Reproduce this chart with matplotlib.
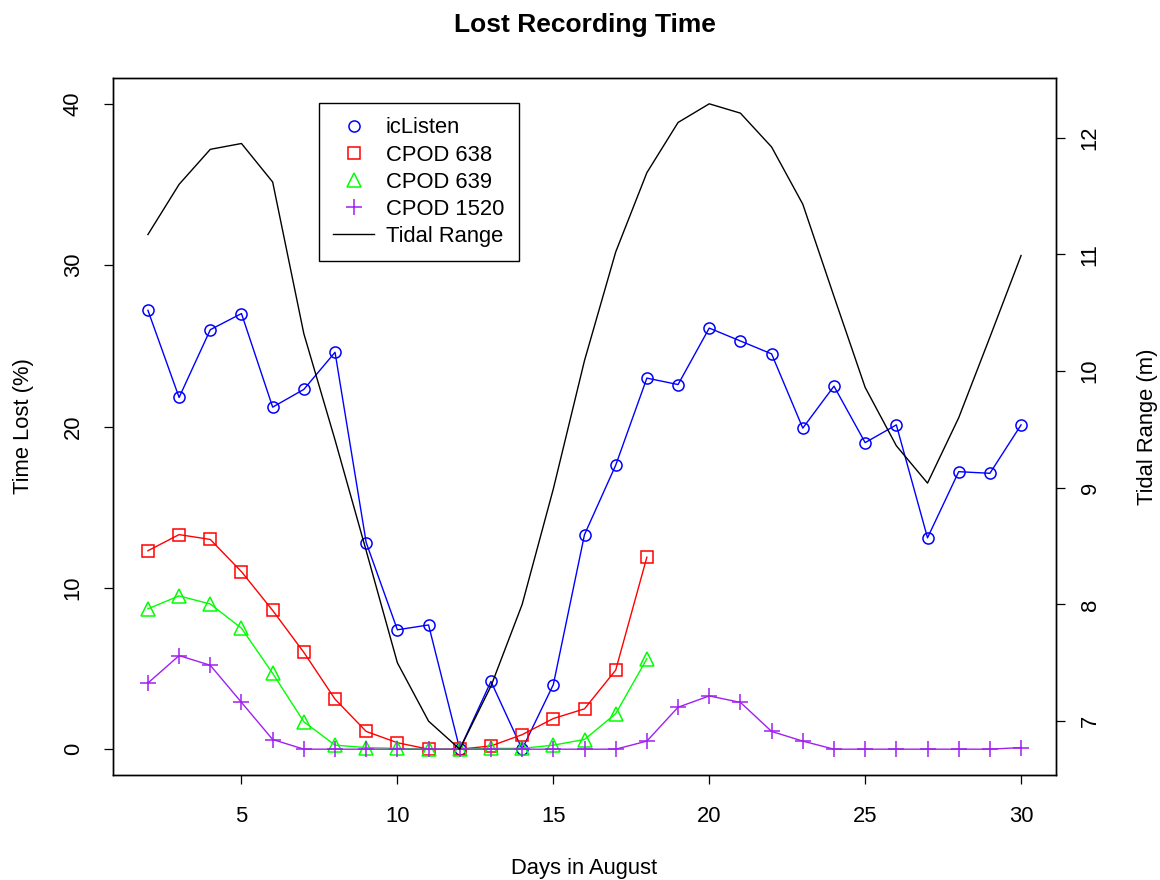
import numpy as np
import matplotlib.pyplot as plt
from matplotlib.lines import Line2D

plt.rcParams['font.family'] = ['Liberation Sans', 'DejaVu Sans']

days = np.arange(2, 31)
days_cpod = np.arange(2, 19)

iclisten = [27.2, 21.8, 26.0, 27.0, 21.2, 22.3, 24.6, 12.8, 7.4, 7.7, 0.0, 4.2, 0.0, 4.0,
            13.3, 17.6, 23.0, 22.6, 26.1, 25.3, 24.5, 19.9, 22.5, 19.0, 20.1, 13.1, 17.2, 17.1, 20.1]
cpod638 = [12.3, 13.3, 13.0, 11.0, 8.6, 6.0, 3.1, 1.1, 0.4, 0.0, 0.0, 0.2, 0.9, 1.9, 2.5, 4.9, 11.9]
cpod639 = [8.7, 9.5, 9.0, 7.5, 4.7, 1.7, 0.25, 0.1, 0.05, 0.0, 0.0, 0.05, 0.05, 0.25, 0.6, 2.2, 5.6]
cpod1520 = [4.1, 5.8, 5.2, 2.9, 0.6, 0.0, 0.0, 0.0, 0.0, 0.0, 0.0, 0.0, 0.0, 0.0, 0.0, 0.0, 0.5,
            2.6, 3.3, 2.9, 1.1, 0.5, 0.0, 0.0, 0.0, 0.0, 0.0, 0.0, 0.1]
tidal = [11.17, 11.60, 11.90, 11.95, 11.62, 10.32, 9.41, 8.46, 7.50, 7.00, 6.76, 7.30, 8.00, 8.99,
         10.09, 11.02, 11.70, 12.13, 12.29, 12.21, 11.92, 11.43, 10.64, 9.86, 9.36, 9.04, 9.60, 10.29, 10.99]

purple = '#A020F0'
fs = 15.8

fig, ax = plt.subplots(figsize=(11.6, 8.8), dpi=100)
fig.subplots_adjust(left=113/1160, right=1056/1160, top=1-78/880, bottom=1-775/880)

lw = 1.0
ax.plot(days, iclisten, color='blue', lw=lw, marker='o', ms=8, mfc='none', mew=1.1)
ax.plot(days_cpod, cpod638, color='red', lw=lw, marker='s', ms=8, mfc='none', mew=1.1)
ax.plot(days_cpod, cpod639, color='#00FF00', lw=lw, marker='^', ms=9.5, mfc='none', mew=1.1)
ax.plot(days, cpod1520, color=purple, lw=lw, marker='+', ms=11, mew=1.1)

ax.set_xlim(0.88, 31.12)
ax.set_ylim(-1.6, 41.6)
ax.set_xticks([5, 10, 15, 20, 25, 30])
ax.set_yticks([0, 10, 20, 30, 40])
ax.tick_params(axis='x', direction='out', length=6.5, width=0.9, labelsize=fs, pad=15.5)
ax.tick_params(axis='y', direction='out', length=6.5, width=0.9, labelsize=fs, pad=14.5)
for lab in ax.get_yticklabels():
    lab.set_rotation(90)
    lab.set_va('center')

ax2 = ax.twinx()
ax2.plot(days, tidal, color='black', lw=lw)
rng = max(tidal) - min(tidal)
ax2.set_ylim(min(tidal) - 0.04 * rng, max(tidal) + 0.04 * rng)
ax2.set_yticks([7, 8, 9, 10, 11, 12])
ax2.tick_params(axis='y', direction='out', length=6.5, width=0.9, labelsize=fs, pad=10.5)
for lab in ax2.get_yticklabels():
    lab.set_rotation(90)
    lab.set_va('center')

for a in (ax, ax2):
    for s in a.spines.values():
        s.set_linewidth(1.0)

mid_y = 1 - 426.5/880
fig.text(584.5/1160, 1-25/880, 'Lost Recording Time', ha='center', va='center',
         fontsize=19, fontweight='bold')
fig.text(584.5/1160, 1-868/880, 'Days in August', ha='center', va='center', fontsize=fs)
fig.text(24/1160, mid_y, 'Time Lost (%)', ha='center', va='center', rotation=90, fontsize=fs)
fig.text(1148/1160, mid_y, 'Tidal Range (m)', ha='center', va='center', rotation=90, fontsize=fs)

handles = [
    Line2D([], [], color='blue', ls='none', marker='o', ms=8, mfc='none', mew=1.1),
    Line2D([], [], color='red', ls='none', marker='s', ms=8, mfc='none', mew=1.1),
    Line2D([], [], color='#00FF00', ls='none', marker='^', ms=9.5, mfc='none', mew=1.1),
    Line2D([], [], color=purple, ls='none', marker='+', ms=11, mew=1.1),
    Line2D([], [], color='black', lw=lw),
]
labels = ['icListen', 'CPOD 638', 'CPOD 639', 'CPOD 1520', 'Tidal Range']
leg = ax2.legend(handles, labels, loc='upper left', bbox_to_anchor=(0.2185, 0.964),
                 borderaxespad=0, fontsize=fs, frameon=True, fancybox=False,
                 edgecolor='black', framealpha=1, handlelength=1.85, handletextpad=0.55,
                 borderpad=0.65, labelspacing=0.28)
leg.get_frame().set_linewidth(1.0)

fig.savefig('out.png', dpi=100)
